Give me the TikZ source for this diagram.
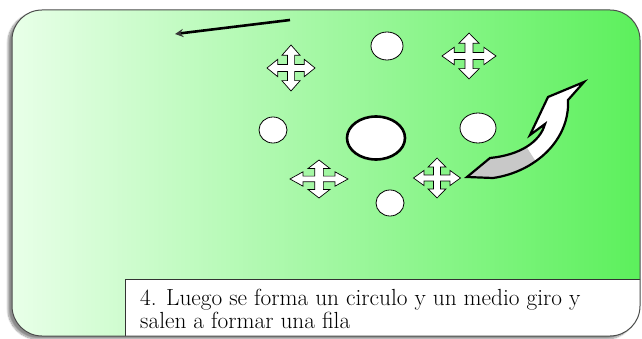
\documentclass[tikz,border=0pt]{standalone}
\usetikzlibrary{positioning, shapes.geometric, arrows, shadows.blur}
\definecolor{fieldlight}{RGB}{232,255,232}
\definecolor{fieldmid}{RGB}{175,250,175}
\definecolor{fieldgreen}{RGB}{92,240,92}
\definecolor{ribbongray}{RGB}{200,200,200}

\tikzset{
moveicon/.pic={
\draw[fill=white, line width=0.7pt, line join=miter]
(0.15,0.15) -- (0.55,0.15) -- (0.55,0.38) -- (1,0) -- (0.55,-0.38) -- (0.55,-0.15)
-- (0.15,-0.15) -- (0.15,-0.55) -- (0.38,-0.55) -- (0,-1) -- (-0.38,-0.55) -- (-0.15,-0.55)
-- (-0.15,-0.15) -- (-0.55,-0.15) -- (-0.55,-0.38) -- (-1,0) -- (-0.55,0.38) -- (-0.55,0.15)
-- (-0.15,0.15) -- (-0.15,0.55) -- (-0.38,0.55) -- (0,1) -- (0.38,0.55) -- (0.15,0.55) -- cycle;
}
}

\begin{document}
\begin{tikzpicture}[x=1pt, y=-1pt,
player/.style={ellipse, draw=black, line width=0.8pt, fill=white, inner sep=0pt},
leader/.style={player, line width=2.6pt},
arrow/.style={->, line width=2.6pt, >=stealth}
]
\useasboundingbox (0,0) rectangle (642,339);

% Field
\path[blur shadow={shadow xshift=-4pt, shadow yshift=-3pt, shadow blur steps=12, shadow opacity=45}]
(12,10) [rounded corners=30pt] rectangle (640,336);
\begin{scope}
\clip[rounded corners=30pt] (12,10) rectangle (640,336);
\shade[left color=fieldlight, middle color=fieldmid, right color=fieldgreen] (12,10) rectangle (640,336);
\fill[white] (125,279) rectangle (645,345);
\draw[black!80, line width=0.8pt] (125,345) -- (125,279) -- (645,279);
\end{scope}
\draw[black!70, line width=1pt, rounded corners=30pt] (12,10) rectangle (640,336);

% Run direction
\coordinate (runstart) at (290,20);
\coordinate (runend) at (175,34);
\draw[arrow] (runstart) -- (runend);

% Players
\node[leader, minimum width=58pt, minimum height=43pt] (center) at (376,138) {};
\node[player, minimum width=32pt, minimum height=28pt] (ptop) at (387,46) {};
\node[player, minimum width=28pt, minimum height=26pt] (pleft) at (273,130) {};
\node[player, minimum width=36pt, minimum height=30pt] (pright) at (478,128) {};
\node[player, minimum width=28pt, minimum height=26pt] (pbottom) at (390,203) {};

% Turning players
\pic[xscale=24, yscale=23] (move1) at (291,68) {moveicon};
\pic[xscale=27, yscale=23] (move2) at (469,56) {moveicon};
\pic[xscale=29, yscale=19] (move3) at (319,179) {moveicon};
\pic[xscale=23.5, yscale=20] (move4) at (437,178) {moveicon};

% Half turn
\begin{scope}
\clip (467,177) -- (490,158) .. controls (520,155) and (540,142) .. (545,124)
-- (530,135) -- (548,97) -- (584,82) -- (568,100) .. controls (570,140) and (535,172) .. (493,178) -- cycle;
\fill[white] (460,70) rectangle (600,190);
\fill[ribbongray] (455,140) -- (522,140) -- (540,168) -- (455,195) -- cycle;
\end{scope}
\draw[line width=2.2pt, line join=miter] (467,177) -- (490,158) .. controls (520,155) and (540,142) .. (545,124)
-- (530,135) -- (548,97) -- (584,82) -- (568,100) .. controls (570,140) and (535,172) .. (493,178) -- cycle;

% Caption
\node[anchor=base west, align=left, inner sep=0pt, font=\fontsize{23.3}{23}\selectfont] (caption) at (140,328)
{4. Luego se forma un circulo y un medio giro y\\salen a formar una fila};

\end{tikzpicture}
\end{document}
